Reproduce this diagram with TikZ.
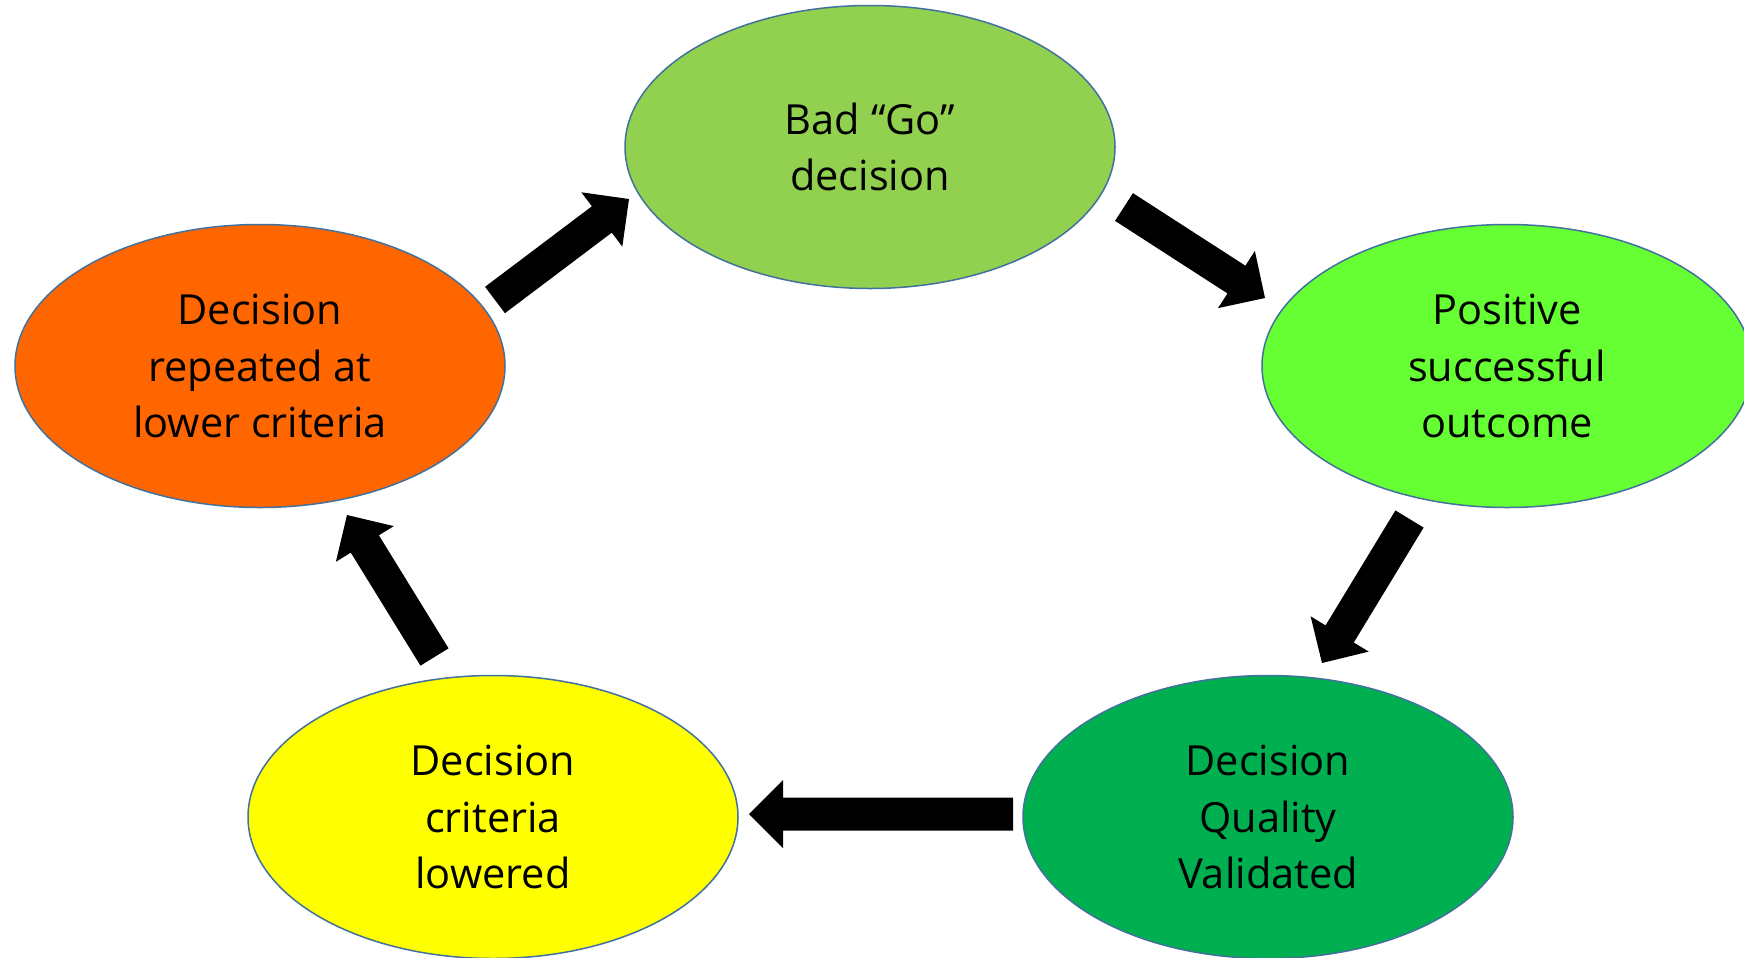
\documentclass[tikz,border=0pt]{standalone}
\usepackage{fontspec}
\setmainfont{Open Sans}
\usetikzlibrary{shapes.geometric,calc}
\definecolor{cTop}{HTML}{92D050}
\definecolor{cRight}{HTML}{66FF33}
\definecolor{cBR}{HTML}{00B050}
\definecolor{cBL}{HTML}{FFFF00}
\definecolor{cLeft}{HTML}{FF6600}
\definecolor{cEdge}{HTML}{41719C}
\newcommand\blockarrow[2]{%
  \fill[black]
    ($(#1)!16.5bp!90:(#2)$) --
    ($($(#2)!34bp!(#1)$)!16.5bp!90:(#2)$) --
    ($($(#2)!34bp!(#1)$)!34bp!90:(#2)$) --
    (#2) --
    ($($(#2)!34bp!(#1)$)!34bp!-90:(#2)$) --
    ($($(#2)!34bp!(#1)$)!16.5bp!-90:(#2)$) --
    ($(#1)!16.5bp!-90:(#2)$) -- cycle;}
\begin{document}
\begin{tikzpicture}[x=1bp,y=-1bp,
  ell/.style={ellipse, draw=cEdge, line width=1.5bp, minimum width=490bp, minimum height=283bp,
    inner sep=0pt, align=center, font=\fontsize{41.5bp}{56.7bp}\selectfont}]
\clip (0,0) rectangle (1744,957);
\fill[white] (0,0) rectangle (1744,957);
\node[ell, fill=cTop]   (top)   at (870,147)  {Bad “Go”\\decision};
\node[ell, fill=cRight] (right) at (1507,366) {Positive\\successful\\outcome};
\node[ell, fill=cBR]    (br)    at (1268,817) {Decision\\Quality\\Validated};
\node[ell, fill=cBL]    (bl)    at (493,817)  {Decision\\criteria\\lowered};
\node[ell, fill=cLeft]  (left)  at (260,366)  {Decision\\repeated at\\lower criteria};
\coordinate (a1s) at (495,300);   \coordinate (a1e) at (629,199);
\coordinate (a2s) at (1124,207);  \coordinate (a2e) at (1265,298);
\coordinate (a3s) at (1013,814);  \coordinate (a3e) at (749,814);
\coordinate (a4s) at (1409.5,519);\coordinate (a4e) at (1322,663);
\coordinate (a5s) at (434.5,657); \coordinate (a5e) at (347,515);
\blockarrow{a1s}{a1e}
\blockarrow{a2s}{a2e}
\blockarrow{a3s}{a3e}
\blockarrow{a4s}{a4e}
\blockarrow{a5s}{a5e}
\end{tikzpicture}
\end{document}
